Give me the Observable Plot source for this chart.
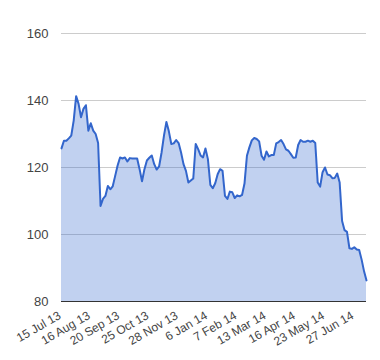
<!DOCTYPE html>
<html>
<head>
<meta charset="utf-8">
<script src="https://cdn.jsdelivr.net/npm/d3@7"></script>
<script src="https://cdn.jsdelivr.net/npm/@observablehq/plot@0.6"></script>
<style>
  html, body { margin: 0; padding: 0; background: #fff; }
</style>
</head>
<body>
<div id="chart"></div>
<script>
// Tick labels on the x axis (one every 24 trading days)
const tickLabels = ["15 Jul 13", "16 Aug 13", "20 Sep 13", "25 Oct 13", "28 Nov 13", "6 Jan 14",
                    "7 Feb 14", "13 Mar 14", "16 Apr 14", "23 May 14", "27 Jun 14"];
const tickDays = [0, 24, 48, 72, 96, 120, 144, 168, 192, 216, 240];
const yTicks = [80, 100, 120, 140, 160];

// Values sampled every 2 trading days, starting 15 Jul 13
const sampleStep = 2;
const values = [
  125.7, 128, 128, 128.7, 129.5, 134, 141.3, 139, 135, 137.5,
  138.6, 131, 133.2, 131, 130, 127.3, 108.5, 110.6, 111.5, 114.5,
  113.5, 114.4, 117.5, 120.6, 123, 122.7, 123, 121.8, 122.8, 122.7,
  122.7, 122.7, 119.5, 115.9, 119.5, 122.1, 122.9, 123.6, 121, 119.4,
  120.3, 124.4, 129.5, 133.6, 130.8, 127, 127.2, 128.2, 127.3, 124.5,
  121, 119, 115.5, 116.1, 116.7, 127, 125.5, 123.6, 123, 125.7,
  122.5, 114.8, 113.8, 115.3, 118, 119.5, 119, 111.5, 110.6, 112.8,
  112.6, 110.9, 111.7, 111.4, 111.8, 115.2, 123.5, 126, 128.1, 128.8,
  128.5, 127.8, 123.5, 122.3, 124.8, 123.3, 123.7, 123.7, 127.2, 127.6,
  128.2, 127, 125.4, 125, 124, 122.9, 123, 126.7, 128.2, 127.7,
  127.7, 128, 127.7, 128, 127.3, 115.5, 114.3, 118.6, 120, 117.9,
  117.7, 116.8, 116.9, 118.2, 115.5, 104, 101.3, 100.8, 95.9, 95.7,
  96.2, 95.5, 95.4, 92.5, 89, 86.3
];

const data = values.map((v, i) => ({day: i * sampleStep, value: v}));
const tickData = tickDays.map((d, i) => ({day: d, label: tickLabels[i]}));

const chart = Plot.plot({
  width: 380,
  height: 360,
  marginLeft: 61,
  marginRight: 14,
  marginTop: 33,
  marginBottom: 59,
  style: {fontFamily: "Arial, 'Liberation Sans', sans-serif", fontSize: "12px", color: "#444", background: "#fff"},
  x: {
    domain: [0, 250],
    axis: null,
    label: null
  },
  y: {
    domain: [80, 160],
    label: null
  },
  marks: [
    Plot.ruleY(yTicks.slice(1), {stroke: "#cccccc", strokeWidth: 1}),
    Plot.areaY(data, {x: "day", y1: 80, y2: "value", fill: "#3366cc", fillOpacity: 0.3}),
    Plot.lineY(data, {x: "day", y: "value", stroke: "#3366cc", strokeWidth: 2}),
    Plot.ruleY([80], {stroke: "#333333", strokeWidth: 1}),
    Plot.text(tickData, {x: "day", y: () => 80, text: "label", rotate: -30, textAnchor: "end",
                         lineAnchor: "top", dx: -4, dy: 9, fontSize: 12, fill: "#444"}),
    Plot.axisY({ticks: yTicks, tickSize: 0, tickPadding: 13, fontSize: 13, label: null})
  ]
});
document.getElementById("chart").appendChild(chart);
</script>
</body>
</html>
